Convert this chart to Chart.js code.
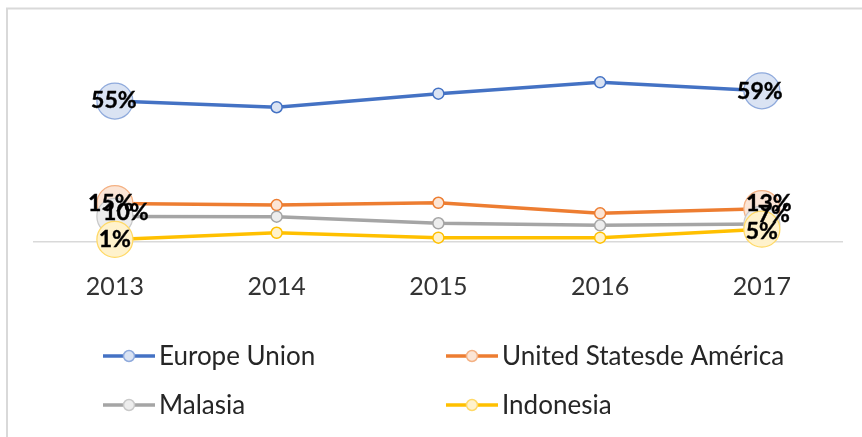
<!DOCTYPE html>
<html><head><meta charset="utf-8">
<script src="https://cdn.jsdelivr.net/npm/chart.js@4.4.1/dist/chart.umd.min.js"></script>
<style>html,body{margin:0;padding:0;background:#fff;}canvas{display:block;}</style>
</head><body>
<canvas id="c" width="862" height="437"></canvas>
<script>
const categories = ['2013', '2014', '2015', '2016', '2017'];
const seriesNames = ['Europe Union', 'United Statesde América', 'Malasia', 'Indonesia'];
const europeUnion = [55, 52.6, 57.9, 62.3, 59];
const unitedStates = [15, 14.4, 15.3, 11.2, 13];
const malasia = [10, 9.9, 7.3, 6.5, 7];
const indonesia = [1, 3.6, 1.7, 1.7, 5];

const lineColors = ['#4472C4', '#ED7D31', '#A5A5A5', '#FFC000'];
const fillColors = ['#DAE3F3', '#FBE5D6', '#EDEDED', '#FFF2CC'];
const bigBorders = ['#8FAADC', '#F4B183', '#C9C9C9', '#FFD966'];
// label nudges [first, last] (style only)
const labelNudge = [[[-1,0],[-2,1]], [[-4,0],[7,-5]], [[11,-4],[12,-9]], [[0,0],[0,2]]];

const seriesData = [europeUnion, unitedStates, malasia, indonesia];
const isEnd = (ctx) => ctx.dataIndex === 0 || ctx.dataIndex === categories.length - 1;

const datasets = seriesData.map((d, i) => ({
  label: seriesNames[i],
  data: d,
  order: 4 - i,
  clip: false,
  borderColor: lineColors[i],
  backgroundColor: fillColors[i],
  borderWidth: 3.5,
  tension: 0,
  pointBackgroundColor: fillColors[i],
  pointBorderColor: (ctx) => isEnd(ctx) ? bigBorders[i] : lineColors[i],
  pointBorderWidth: (ctx) => isEnd(ctx) ? 1.25 : 1.5,
  pointRadius: (ctx) => isEnd(ctx) ? 18 : 5.5
}));

const framePlugin = {
  id: 'frame',
  beforeDraw(chart) {
    const ctx = chart.ctx;
    ctx.save();
    ctx.fillStyle = '#fff';
    ctx.fillRect(0, 0, chart.width, chart.height);
    ctx.strokeStyle = '#d9d9d9';
    ctx.lineWidth = 2;
    ctx.beginPath();
    ctx.moveTo(7, chart.height + 5);
    ctx.lineTo(7, 8.5);
    ctx.lineTo(chart.width + 5, 8.5);
    ctx.stroke();
    ctx.restore();
  }
};

const labelPlugin = {
  id: 'endLabels',
  afterDatasetsDraw(chart) {
    const ctx = chart.ctx;
    ctx.save();
    ctx.font = 'bold 23px Lato';
    ctx.fillStyle = '#000';
    ctx.strokeStyle = '#000';
    ctx.lineWidth = 0.4;
    ctx.textAlign = 'center';
    ctx.textBaseline = 'middle';
    chart.data.datasets.forEach((ds, i) => {
      const meta = chart.getDatasetMeta(i);
      [0, ds.data.length - 1].forEach((j, k) => {
        const p = meta.data[j];
        const n = labelNudge[i][k];
        const t = Math.round(ds.data[j]) + '%';
        ctx.fillText(t, p.x + n[0], p.y + n[1]);
        ctx.strokeText(t, p.x + n[0], p.y + n[1]);
      });
    });
    ctx.restore();
  }
};

const legendPlugin = {
  id: 'customLegend',
  afterDraw(chart) {
    const ctx = chart.ctx;
    const cols = [103, 446];
    const rows = [356, 405];
    ctx.save();
    ctx.font = '26px Lato';
    ctx.textBaseline = 'middle';
    ctx.textAlign = 'left';
    chart.data.datasets.forEach((ds, i) => {
      const x = cols[i % 2], y = rows[Math.floor(i / 2)];
      ctx.strokeStyle = lineColors[i];
      ctx.lineWidth = 3.5;
      ctx.beginPath();
      ctx.moveTo(x, y);
      ctx.lineTo(x + 52, y);
      ctx.stroke();
      ctx.beginPath();
      ctx.arc(x + 26, y, 5.5, 0, Math.PI * 2);
      ctx.fillStyle = fillColors[i];
      ctx.fill();
      ctx.lineWidth = 1.5;
      ctx.strokeStyle = bigBorders[i];
      ctx.stroke();
      ctx.fillStyle = '#262626';
      ctx.fillText(ds.label, x + 56, y + 1);
    });
    ctx.restore();
  }
};

new Chart(document.getElementById('c'), {
  type: 'line',
  data: { labels: categories, datasets: datasets },
  options: {
    responsive: false,
    animation: false,
    layout: { padding: { top: 37, left: 34, right: 17, bottom: 0 } },
    plugins: { legend: { display: false }, tooltip: { enabled: false } },
    scales: {
      x: {
        offset: true,
        grid: { display: false, drawTicks: false },
        border: { display: true, color: '#d9d9d9', width: 1.5 },
        ticks: { font: { family: 'Lato', size: 25 }, color: '#333333', padding: 30 },
        afterFit(scale) { scale.height = 195; }
      },
      y: { display: false, min: 0, max: 80 }
    }
  },
  plugins: [framePlugin, labelPlugin, legendPlugin]
});
</script>
</body></html>
